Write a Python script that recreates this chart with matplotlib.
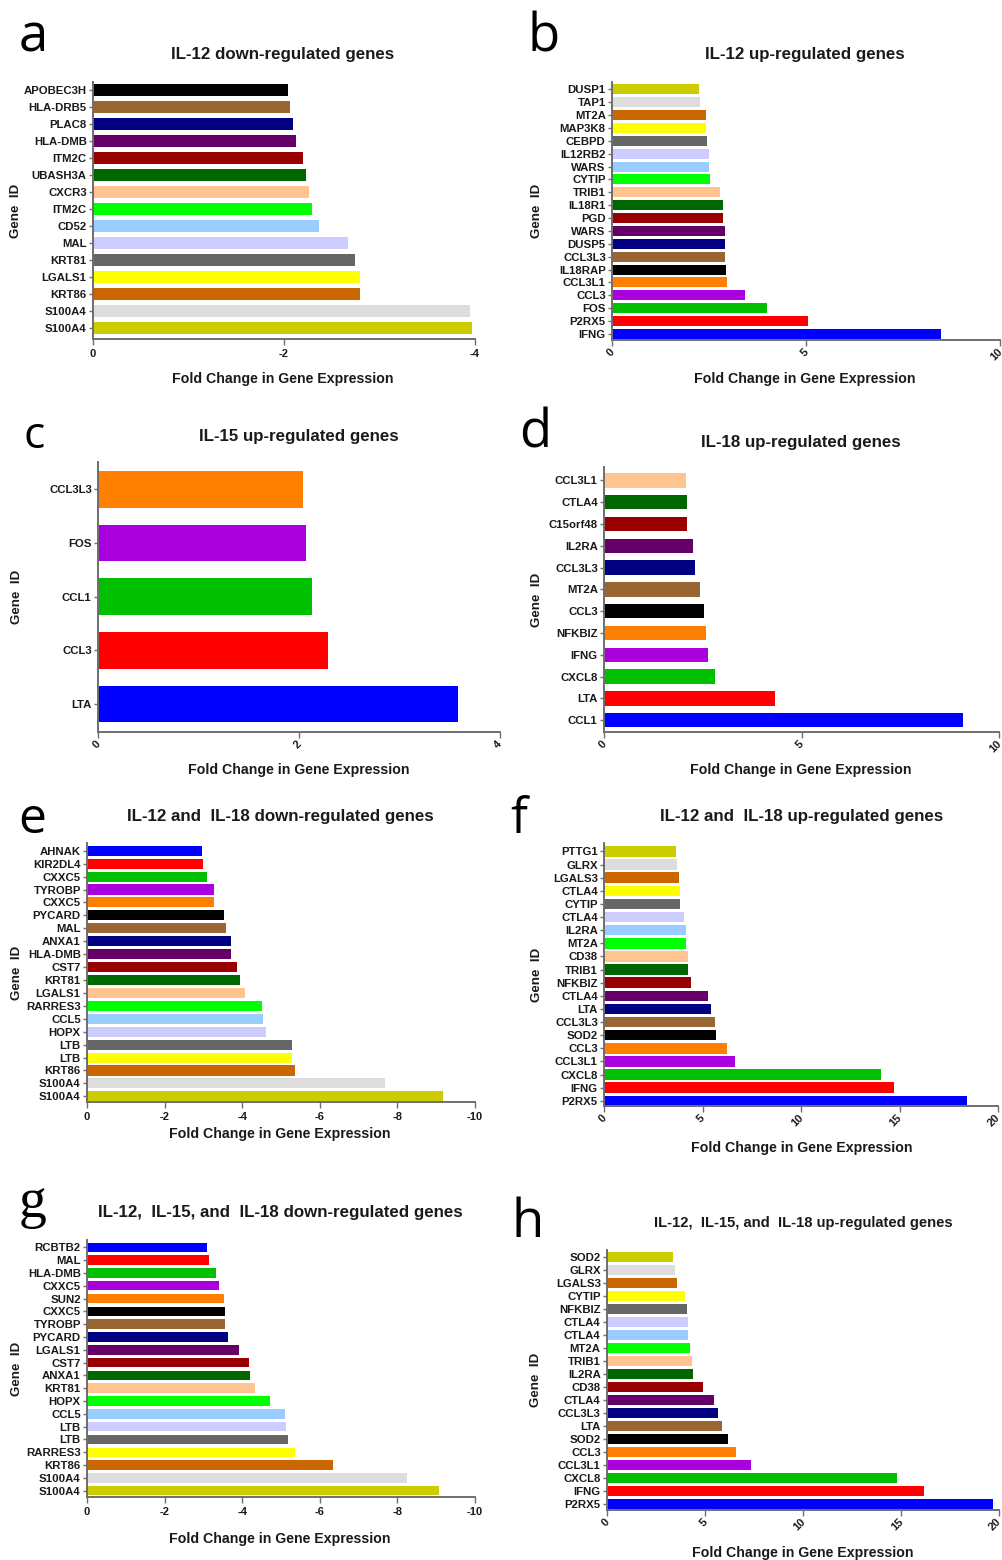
import matplotlib
matplotlib.use("Agg")
import matplotlib.pyplot as plt
import matplotlib.transforms as mtransforms

plt.rcParams['font.family'] = ['Liberation Sans', 'DejaVu Sans']
plt.rcParams['axes.unicode_minus'] = False

# Prism-style palette, first colour goes to the bottom bar of the up-regulated panels
palette = ["#0000FF", "#FF0000", "#00C000", "#AA00DD", "#FF8000", "#000000",
           "#996633", "#000080", "#660066", "#990000", "#006600", "#FFC490",
           "#00FF00", "#99CCFF", "#CCCCFF", "#666666", "#FFFF00", "#CC6600",
           "#DDDDDD", "#CCCC00"]

# genes listed top to bottom as in the figure
a_genes = ["APOBEC3H", "HLA-DRB5", "PLAC8", "HLA-DMB", "ITM2C", "UBASH3A", "CXCR3",
           "ITM2C", "CD52", "MAL", "KRT81", "LGALS1", "KRT86", "S100A4", "S100A4"]
a_vals = [-2.04, -2.06, -2.09, -2.13, -2.2, -2.23, -2.26, -2.29, -2.37, -2.67,
          -2.74, -2.8, -2.8, -3.95, -3.97]

b_genes = ["DUSP1", "TAP1", "MT2A", "MAP3K8", "CEBPD", "IL12RB2", "WARS", "CYTIP",
           "TRIB1", "IL18R1", "PGD", "WARS", "DUSP5", "CCL3L3", "IL18RAP", "CCL3L1",
           "CCL3", "FOS", "P2RX5", "IFNG"]
b_vals = [2.24, 2.27, 2.42, 2.43, 2.44, 2.49, 2.51, 2.53, 2.78, 2.85, 2.86, 2.9,
          2.91, 2.92, 2.94, 2.97, 3.43, 3.99, 5.06, 8.49]

c_genes = ["CCL3L3", "FOS", "CCL1", "CCL3", "LTA"]
c_vals = [2.04, 2.07, 2.13, 2.29, 3.58]

d_genes = ["CCL3L1", "CTLA4", "C15orf48", "IL2RA", "CCL3L3", "MT2A", "CCL3",
           "NFKBIZ", "IFNG", "CXCL8", "LTA", "CCL1"]
d_vals = [2.07, 2.09, 2.11, 2.25, 2.31, 2.43, 2.52, 2.58, 2.64, 2.82, 4.32, 9.09]

e_genes = ["AHNAK", "KIR2DL4", "CXXC5", "TYROBP", "CXXC5", "PYCARD", "MAL", "ANXA1",
           "HLA-DMB", "CST7", "KRT81", "LGALS1", "RARRES3", "CCL5", "HOPX", "LTB",
           "LTB", "KRT86", "S100A4", "S100A4"]
e_vals = [-2.96, -2.99, -3.09, -3.27, -3.28, -3.53, -3.59, -3.71, -3.72, -3.86,
          -3.95, -4.06, -4.51, -4.54, -4.61, -5.28, -5.29, -5.35, -7.68, -9.17]

f_genes = ["PTTG1", "GLRX", "LGALS3", "CTLA4", "CYTIP", "CTLA4", "IL2RA", "MT2A",
           "CD38", "TRIB1", "NFKBIZ", "CTLA4", "LTA", "CCL3L3", "SOD2", "CCL3",
           "CCL3L1", "CXCL8", "IFNG", "P2RX5"]
f_vals = [3.64, 3.69, 3.79, 3.84, 3.87, 4.04, 4.18, 4.18, 4.28, 4.28, 4.42, 5.3,
          5.43, 5.65, 5.69, 6.24, 6.63, 14.06, 14.74, 18.44]

g_genes = ["RCBTB2", "MAL", "HLA-DMB", "CXXC5", "SUN2", "CXXC5", "TYROBP", "PYCARD",
           "LGALS1", "CST7", "ANXA1", "KRT81", "HOPX", "CCL5", "LTB", "LTB",
           "RARRES3", "KRT86", "S100A4", "S100A4"]
g_vals = [-3.09, -3.15, -3.32, -3.39, -3.53, -3.55, -3.56, -3.63, -3.92, -4.18,
          -4.21, -4.32, -4.72, -5.11, -5.12, -5.18, -5.37, -6.33, -8.26, -9.08]

h_genes = ["SOD2", "GLRX", "LGALS3", "CYTIP", "NFKBIZ", "CTLA4", "CTLA4", "MT2A",
           "TRIB1", "IL2RA", "CD38", "CTLA4", "CCL3L3", "LTA", "SOD2", "CCL3",
           "CCL3L1", "CXCL8", "IFNG", "P2RX5"]
h_vals = [3.36, 3.45, 3.57, 3.98, 4.08, 4.11, 4.13, 4.21, 4.35, 4.37, 4.89, 5.47,
          5.68, 5.85, 6.17, 6.56, 7.36, 14.82, 16.18, 19.68]

titles = {"a": "IL-12 down-regulated genes",
          "b": "IL-12 up-regulated genes",
          "c": "IL-15 up-regulated genes",
          "d": "IL-18 up-regulated genes",
          "e": "IL-12 and  IL-18 down-regulated genes",
          "f": "IL-12 and  IL-18 up-regulated genes",
          "g": "IL-12,  IL-15, and  IL-18 down-regulated genes",
          "h": "IL-12,  IL-15, and  IL-18 up-regulated genes"}

W, H = 1002, 1560
fig = plt.figure(figsize=(W / 100, H / 100), dpi=100)

sans = ["Open Sans", "DejaVu Sans"]
serif = ["Liberation Serif", "DejaVu Serif"]

# layout in pixels: axes box (left, top, right, bottom), y margins, x limit / ticks,
# rotated ticks, bar height, title y, xlabel y, ylabel x, letter position
panels = [
    dict(k="a", genes=a_genes, vals=a_vals, box=(93, 82, 475, 339), ym=(0.65, 0.47),
         xlim=-4, xt=[0, -2, -4], rot=False, bh=0.72, ty=55, xly=379, ylx=16,
         tx=283, let=(19, 52), lsize=38, lfam=sans, tsize=12.2),
    dict(k="b", genes=b_genes, vals=b_vals, box=(612, 82, 1000, 340), ym=(0.47, 0.57),
         xlim=10, xt=[0, 5, 10], rot=True, bh=0.78, ty=55, xly=379, ylx=537,
         tx=805, let=(527, 52), lsize=38, lfam=sans, tsize=12.2),
    dict(k="c", genes=c_genes, vals=c_vals, box=(98, 462, 500, 732), ym=(0.52, 0.51),
         xlim=4, xt=[0, 2, 4], rot=True, bh=0.68, ty=437, xly=770, ylx=17,
         tx=299, let=(23, 448), lsize=32, lfam=sans, tsize=12.2),
    dict(k="d", genes=d_genes, vals=d_vals, box=(604, 467, 999, 732), ym=(0.54, 0.61),
         xlim=10, xt=[0, 5, 10], rot=True, bh=0.66, ty=443, xly=770, ylx=537,
         tx=801, let=(519, 447), lsize=38, lfam=sans, tsize=12.2),
    dict(k="e", genes=e_genes, vals=e_vals, box=(87, 843, 475, 1102), ym=(0.44, 0.6),
         xlim=-10, xt=[0, -2, -4, -6, -8, -10], rot=False, bh=0.78, ty=817, xly=1134,
         ylx=17, tx=280, let=(18, 833), lsize=36, lfam=sans, tsize=12.2),
    dict(k="f", genes=f_genes, vals=f_vals, box=(604, 843, 998, 1106), ym=(0.4, 0.64),
         xlim=20, xt=[0, 5, 10, 15, 20], rot=True, bh=0.8, ty=817, xly=1148,
         ylx=537, tx=802, let=(510, 833), lsize=36, lfam=sans, tsize=12.2),
    dict(k="g", genes=g_genes, vals=g_vals, box=(87, 1240, 475, 1497), ym=(0.49, 0.57),
         xlim=-10, xt=[0, -2, -4, -6, -8, -10], rot=False, bh=0.74, ty=1212,
         xly=1539, ylx=17, tx=280, let=(19, 1217), lsize=40, lfam=serif, tsize=12.2),
    dict(k="h", genes=h_genes, vals=h_vals, box=(607, 1250, 999, 1510), ym=(0.46, 0.56),
         xlim=20, xt=[0, 5, 10, 15, 20], rot=True, bh=0.8, ty=1223, xly=1553,
         ylx=536, tx=803, let=(512, 1237), lsize=38, lfam=sans, tsize=10.6),
]

spine_col = "#6E6E6E"
label_col = "#1a1a1a"
for p in panels:
    l, t, r, b = p["box"]
    ax = fig.add_axes([l / W, 1 - b / H, (r - l) / W, (b - t) / H])
    genes = p["genes"][::-1]
    vals = p["vals"][::-1]
    n = len(genes)
    down = vals[0] < 0
    cols = [palette[19 - i] if down else palette[i] for i in range(n)]
    ypos = list(range(n))
    ax.barh(ypos, vals, height=p["bh"], color=cols, edgecolor="none")
    ax.set_ylim(-p["ym"][0], n - 1 + p["ym"][1])
    ax.set_xlim(0, p["xlim"])
    ax.set_yticks(ypos)
    ax.set_yticklabels(genes, fontsize=8.2, fontweight="bold", color=label_col)
    ax.set_xticks(p["xt"])
    if p["rot"]:
        # rotated labels drawn by hand so they can sit a little left of the tick
        ax.set_xticklabels([])
        off = mtransforms.ScaledTranslation(-3 / 100, -7 / 100, fig.dpi_scale_trans)
        trans = mtransforms.blended_transform_factory(ax.transData, ax.transAxes) + off
        for v in p["xt"]:
            ax.text(v, 0, str(v), transform=trans, rotation=45, ha="right", va="top",
                    rotation_mode="anchor", fontsize=8, fontweight="bold",
                    color=label_col, clip_on=False)
    else:
        ax.set_xticklabels([str(v) for v in p["xt"]], fontsize=8, fontweight="bold",
                           color=label_col)
    for s in ["top", "right"]:
        ax.spines[s].set_visible(False)
    for s in ["left", "bottom"]:
        ax.spines[s].set_color(spine_col)
        ax.spines[s].set_linewidth(1.4)
    ax.tick_params(axis="y", length=3, width=1, color=spine_col, pad=1.5)
    ax.tick_params(axis="x", length=4, width=1, color=spine_col, pad=3)

    fig.text(p["tx"] / W, 1 - p["ty"] / H, titles[p["k"]], ha="center", va="center",
             fontsize=p["tsize"], fontweight="bold", color=label_col)
    fig.text(p["tx"] / W, 1 - p["xly"] / H, "Fold Change in Gene Expression",
             ha="center", va="center", fontsize=10.2, fontweight="bold", color=label_col)
    fig.text(p["ylx"] / W, 1 - ((t + b) / 2) / H, "Gene  ID", ha="center", va="center",
             rotation=90, fontsize=9.6, fontweight="bold", color=label_col)
    fig.text(p["let"][0] / W, 1 - p["let"][1] / H, p["k"], ha="left", va="baseline",
             fontsize=p["lsize"], family=p["lfam"], color="black")

fig.savefig("out.png", dpi=100)
